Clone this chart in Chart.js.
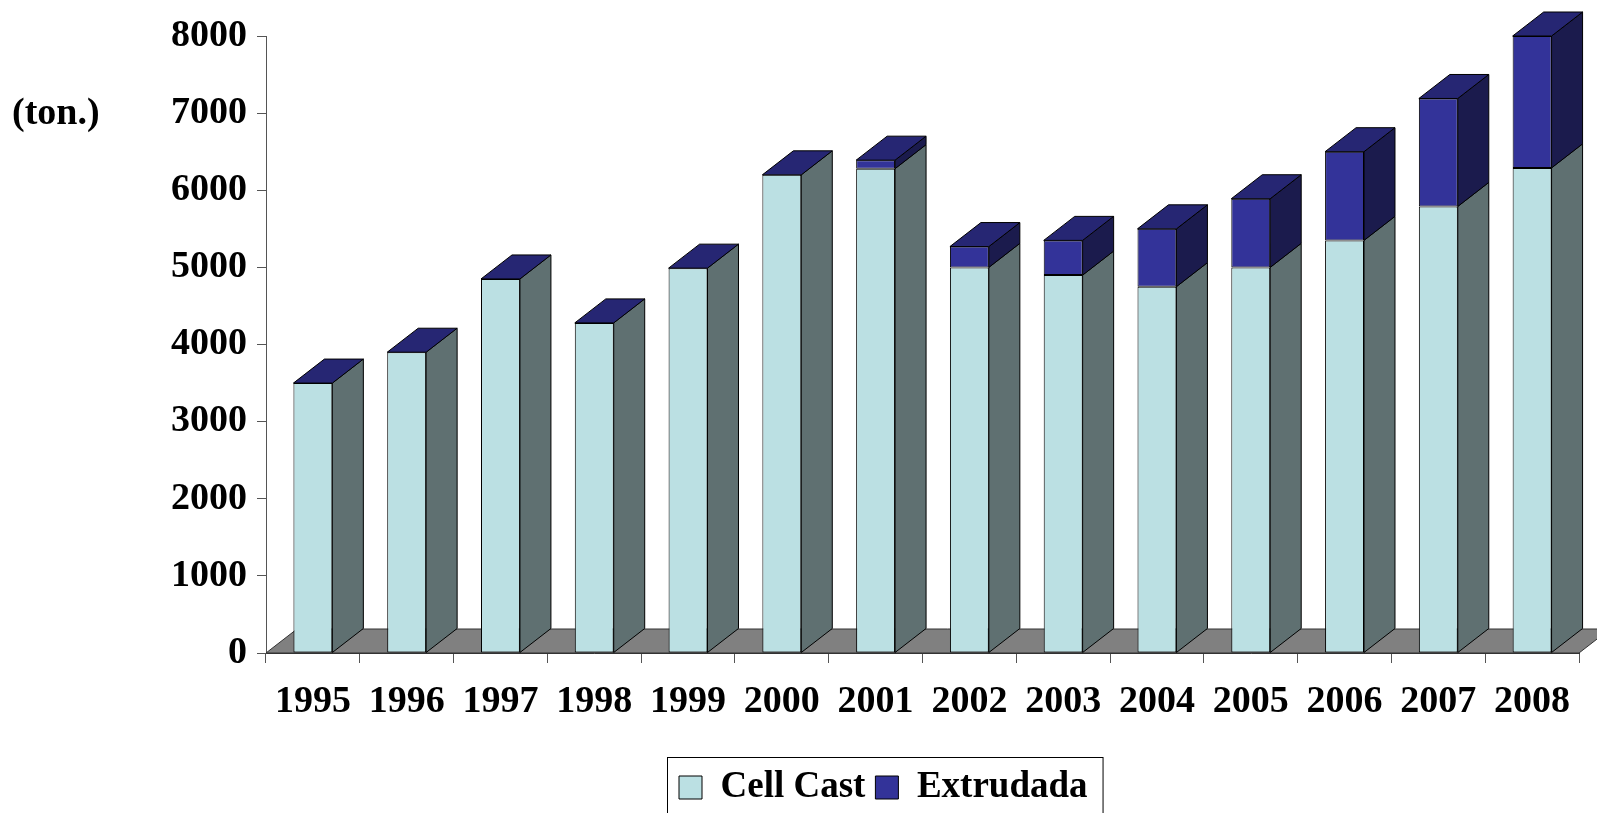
<!DOCTYPE html>
<html>
<head>
<meta charset="utf-8">
<script src="https://cdn.jsdelivr.net/npm/chart.js@4"></script>
<style>
  html, body { margin: 0; padding: 0; background: #fff; }
  canvas { display: block; }
</style>
</head>
<body>
<canvas id="chart" width="1597" height="813"></canvas>
<script>
// data (tonnes)
const years = ['1995', '1996', '1997', '1998', '1999', '2000', '2001',
               '2002', '2003', '2004', '2005', '2006', '2007', '2008'];
const cellCast  = [3500, 3900, 4850, 4280, 4990, 6200, 6280, 5000, 4900, 4750, 5000, 5350, 5790, 6290];
const extrudada = [0, 0, 0, 0, 0, 0, 110, 270, 450, 750, 890, 1150, 1400, 1710];
const yTicks = [0, 1000, 2000, 3000, 4000, 5000, 6000, 7000, 8000];

const FONT = { family: '"Liberation Serif", "Times New Roman", serif', size: 38, weight: 'bold' };
const LEGEND_FONT = { family: '"Liberation Serif", "Times New Roman", serif', size: 37, weight: 'bold' };
const DX = 31, DY = 24;   // depth of the fake 3D

function poly(ctx, pts, fill) {
  ctx.beginPath();
  ctx.moveTo(pts[0][0], pts[0][1]);
  for (let i = 1; i < pts.length; i++) ctx.lineTo(pts[i][0], pts[i][1]);
  ctx.closePath();
  ctx.fillStyle = fill;
  ctx.fill();
  ctx.stroke();
}

const bar3d = {
  id: 'bar3d',
  afterLayout(chart) {
    // move legend so that it sits where the original one is
    const lg = chart.legend;
    const p = lg.options.labels.padding;
    const cur = (lg.left + p + lg.right - lg.lineWidths[0]) / 2;
    const d = 679 - cur;
    lg.left += d; lg.right += d;
  },
  beforeDatasetsDraw(chart) {
    const { ctx, chartArea: a } = chart;
    ctx.save();
    ctx.lineWidth = 1;
    ctx.strokeStyle = '#333';
    poly(ctx, [[a.left, a.bottom], [a.left + DX, a.bottom - DY], [a.right + DX, a.bottom - DY], [a.right, a.bottom]], '#808080');
    ctx.restore();
  },
  afterDatasetsDraw(chart) {
    const ctx = chart.ctx;
    const sets = chart.data.datasets;
    const metas = sets.map((d, i) => chart.getDatasetMeta(i));
    ctx.save();
    ctx.lineWidth = 1;
    ctx.strokeStyle = '#000';
    ctx.lineJoin = 'round';
    years.forEach((_, i) => {
      metas.forEach((m, di) => {
        const b = m.data[i];
        const r = b.x + b.width / 2;
        const top = Math.min(b.y, b.base), bot = Math.max(b.y, b.base);
        if (bot - top > 0.5) {
          poly(ctx, [[r, top], [r + DX, top - DY], [r + DX, bot - DY], [r, bot]], sets[di].sideColor);
        }
      });
      const last = metas.length - 1;
      const tb = metas[last].data[i];
      const l = tb.x - tb.width / 2, r = tb.x + tb.width / 2, t = tb.y;
      poly(ctx, [[l, t], [l + DX, t - DY], [r + DX, t - DY], [r, t]], sets[last].topColor);
    });
    ctx.restore();
  },
  afterDraw(chart) {
    const ctx = chart.ctx;
    ctx.save();
    // unit label
    ctx.font = 'bold 38px "Liberation Serif", "Times New Roman", serif';
    ctx.fillStyle = '#000';
    ctx.textBaseline = 'middle';
    ctx.textAlign = 'left';
    ctx.fillText('(ton.)', 12, 114);
    // legend frame
    const hb = chart.legend.legendHitBoxes;
    if (hb && hb.length) {
      const x0 = hb[0].left - 12;
      const x1 = hb[hb.length - 1].left + hb[hb.length - 1].width + 15;
      const y0 = hb[0].top - 12;
      ctx.strokeStyle = '#000';
      ctx.lineWidth = 1;
      ctx.strokeRect(Math.round(x0) + 0.5, Math.round(y0) + 0.5, x1 - x0, 80);
    }
    ctx.restore();
  }
};

new Chart(document.getElementById('chart'), {
  type: 'bar',
  data: {
    labels: years,
    datasets: [
      {
        label: 'Cell Cast',
        data: cellCast,
        backgroundColor: '#BBE0E3',
        borderColor: '#000',
        borderWidth: 1,
        borderSkipped: false,
        sideColor: '#5F7071',
        topColor: '#D8EEF0',
        clip: false
      },
      {
        label: 'Extrudada',
        data: extrudada,
        backgroundColor: '#333399',
        borderColor: '#000',
        borderWidth: 1,
        borderSkipped: false,
        sideColor: '#1B1B4D',
        topColor: '#262673',
        clip: false
      }
    ]
  },
  options: {
    responsive: false,
    animation: false,
    categoryPercentage: 1,
    barPercentage: 0.415,
    layout: { padding: { left: 0, right: 18, top: 36, bottom: -3 } },
    plugins: {
      tooltip: { enabled: false },
      legend: {
        position: 'bottom',
        labels: {
          font: LEGEND_FONT,
          color: '#000',
          boxWidth: 23,
          boxHeight: 23,
          padding: 10
        }
      }
    },
    scales: {
      x: {
        stacked: true,
        grid: { drawOnChartArea: false, tickLength: 10, color: '#555' },
        border: { color: '#333' },
        ticks: { font: FONT, color: '#000', padding: 16, maxRotation: 0, autoSkip: false },
        afterFit(scale) { scale.height = 106; }
      },
      y: {
        stacked: true,
        min: 0,
        max: 8000,
        grid: { drawOnChartArea: false, tickLength: 9, color: '#555' },
        border: { color: '#555' },
        ticks: {
          font: FONT, color: '#000', padding: 10, stepSize: 1000,
          callback: (v) => yTicks.includes(v) ? String(v) : ''
        },
        afterFit(scale) { scale.width = 266; }
      }
    }
  },
  plugins: [bar3d]
});
</script>
</body>
</html>
